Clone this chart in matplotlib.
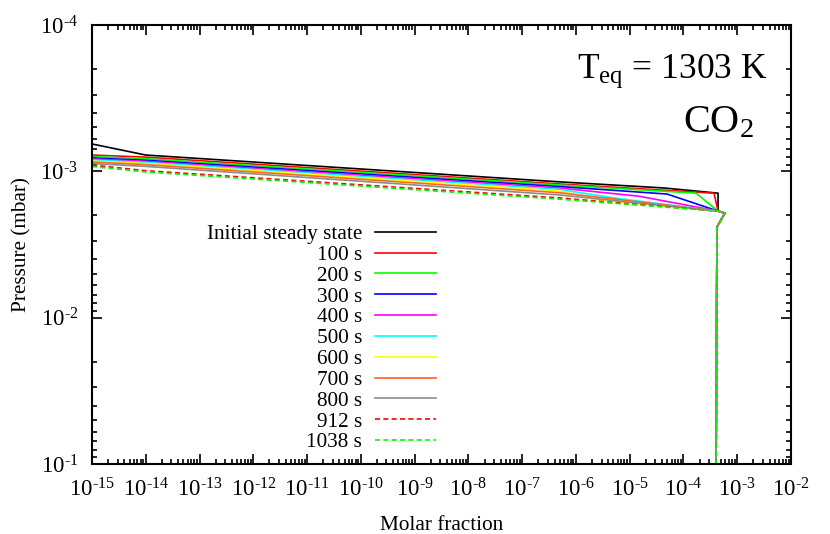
import matplotlib
matplotlib.use("Agg")
import matplotlib.pyplot as plt
from matplotlib.ticker import LogLocator, NullFormatter, FuncFormatter
import numpy as np

plt.rcParams['font.family'] = ['Liberation Serif', 'DejaVu Serif']
plt.rcParams['mathtext.fontset'] = 'custom'
plt.rcParams['mathtext.rm'] = 'Liberation Serif'
plt.rcParams['mathtext.it'] = 'Liberation Serif:italic'

# profiles: molar fraction vs pressure (mbar)
labels = ['Initial steady state', '100 s', '200 s', '300 s', '400 s', '500 s',
          '600 s', '700 s', '800 s', '912 s', '1038 s']
colors = ['#000000', '#ff0000', '#00ff00', '#0000ff', '#ff00ff', '#00ffff',
          '#ffff00', '#ff6420', '#8c8c8c', '#ff0000', '#00ff00']
styles = ['-'] * 9 + ['--', '--']

# common tail: convergence point, little bulge, then the deep vertical part
tail_x = [4.4e-4, 5.9e-4, 4.2e-4, 4.05e-4]
tail_p = [1.87e-3, 1.93e-3, 2.40e-3, 1.0e-1]

x_init = [1e-15, 1e-14, 4.9e-7, 4.4e-5, 4.4e-4, 4.4e-4]
p_init = [6.5e-4, 7.74e-4, 1.18e-3, 1.30e-3, 1.41e-3, 1.60e-3]
x_100 = [1e-15, 1e-14, 4.9e-7, 3.7e-4]
p_100 = [7.74e-4, 8.0e-4, 1.22e-3, 1.41e-3]
x_200 = [1e-15, 1e-14, 4.9e-7, 1.72e-4]
p_200 = [7.93e-4, 8.2e-4, 1.24e-3, 1.41e-3]
x_300 = [1e-15, 1e-14, 4.9e-7, 4.97e-5]
p_300 = [8.11e-4, 8.4e-4, 1.27e-3, 1.43e-3]
x_400 = [1e-15, 1e-14, 4.9e-7, 1.5e-5]
p_400 = [8.24e-4, 8.55e-4, 1.30e-3, 1.48e-3]
x_500 = [1e-15, 1e-14, 4.9e-7, 5.15e-6]
p_500 = [8.37e-4, 8.7e-4, 1.33e-3, 1.52e-3]
x_600 = [1e-15, 1e-14, 4.9e-7, 2.7e-6]
p_600 = [8.51e-4, 8.85e-4, 1.36e-3, 1.57e-3]
x_700 = [1e-15, 1e-14, 4.9e-7]
p_700 = [8.64e-4, 9.0e-4, 1.40e-3]
x_800 = [1e-15, 1e-14, 4.9e-7]
p_800 = [8.85e-4, 9.25e-4, 1.45e-3]
x_912 = [1e-15, 1e-14, 4.9e-7]
p_912 = [9.06e-4, 9.9e-4, 1.52e-3]
x_1038 = [1e-15, 1e-14, 4.9e-7]
p_1038 = [9.27e-4, 1.01e-3, 1.55e-3]

xs = [x_init, x_100, x_200, x_300, x_400, x_500, x_600, x_700, x_800, x_912, x_1038]
ps = [p_init, p_100, p_200, p_300, p_400, p_500, p_600, p_700, p_800, p_912, p_1038]


def pow10_label(v, pos):
    # gnuplot-like 10^-n with a short hyphen in the exponent
    e = int(round(np.log10(v)))
    sign = '\u2010' if e < 0 else ''
    return r'10$^{%s%d}$' % (sign, abs(e))


fig = plt.figure(figsize=(8.3, 5.34), dpi=100)
ax = fig.add_axes([0.1108, 0.1311, 0.8422, 0.8221])

for x, p, c, ls, lab in zip(xs, ps, colors, styles, labels):
    ax.plot(x + tail_x, p + tail_p, color=c, ls=ls, lw=1.2, label=lab,
            dashes=(3, 2) if ls == '--' else (None, None))

ax.set_xscale('log')
ax.set_yscale('log')
ax.set_xlim(1e-15, 1e-2)
ax.set_ylim(1e-1, 1e-4)

ax.xaxis.set_major_locator(LogLocator(base=10, numticks=20))
ax.xaxis.set_major_formatter(FuncFormatter(pow10_label))
ax.xaxis.set_minor_locator(LogLocator(base=10, subs=range(2, 10), numticks=200))
ax.xaxis.set_minor_formatter(NullFormatter())
ax.yaxis.set_major_formatter(FuncFormatter(pow10_label))
ax.yaxis.set_minor_locator(LogLocator(base=10, subs=range(2, 10), numticks=200))
ax.yaxis.set_minor_formatter(NullFormatter())

ax.tick_params(which='both', direction='in', top=True, right=True, width=1.2)
ax.tick_params(which='major', length=7, labelsize=16.5, pad=10)
ax.tick_params(which='minor', length=3.5)
for s in ax.spines.values():
    s.set_linewidth(1.5)

ax.set_xlabel('Molar fraction', fontsize=15.3, labelpad=11)
ax.set_ylabel('Pressure (mbar)', fontsize=15.3, labelpad=6)

ax.text(0.966, 0.88, r'T$_{\rm eq}$ = 1303 K', transform=ax.transAxes,
        ha='right', va='baseline', fontsize=25.5)
ax.text(0.947, 0.756, r'CO$_2$', transform=ax.transAxes,
        ha='right', va='baseline', fontsize=29)

ax.legend(loc='upper right', bbox_to_anchor=(0.514, 0.58), frameon=False,
          markerfirst=False, fontsize=15.3, handlelength=2.9,
          handletextpad=0.6, labelspacing=0.045, borderpad=0.2)

fig.savefig('out.png', dpi=100)
